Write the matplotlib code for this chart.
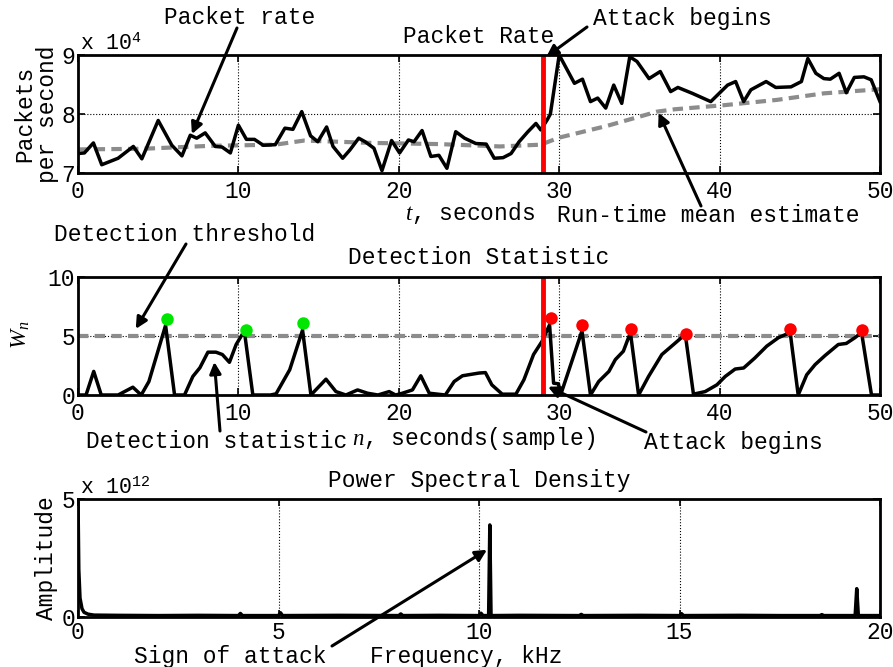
"""Three-panel DDoS detection figure: packet rate, detection statistic, PSD."""
import matplotlib
matplotlib.use("Agg")
import matplotlib.pyplot as plt
from matplotlib.ticker import FuncFormatter

plt.rcParams["font.family"] = ["Liberation Mono", "DejaVu Sans Mono"]
plt.rcParams["mathtext.fontset"] = "custom"
plt.rcParams["mathtext.rm"] = "Liberation Mono"
plt.rcParams["mathtext.it"] = "Liberation Serif:italic"

W, H = 893, 667
FS = 16.5

# ---- packet rate (packets / s) ----
rate_t = [0.0, 0.4, 0.96, 1.48, 2.5, 3.45, 3.98, 5.0, 5.85, 6.48, 7.0, 7.4, 7.93,
          8.56, 8.98, 9.5, 10.0, 10.5, 11.0, 11.55, 12.3, 12.9, 13.4, 13.95, 14.5,
          14.95, 15.5, 15.9, 16.5, 16.95, 17.5, 17.9, 18.45, 18.95, 19.55, 20.05,
          20.6, 20.95, 21.45, 22.0, 22.5, 23.0, 23.55, 24.1, 24.8, 25.45, 25.95,
          26.5, 27.0, 27.5, 28.05, 28.55, 28.85, 29.25, 29.45, 30.0, 30.95, 31.45,
          31.95, 32.4, 32.9, 33.4, 33.9, 34.4, 34.85, 35.6, 36.3, 36.95, 37.4,
          38.3, 39.45, 40.5, 41.0, 41.5, 41.95, 42.9, 43.5, 44.45, 45.1, 45.5,
          46.0, 46.5, 46.9, 47.45, 47.9, 48.4, 49.0, 49.45, 50.0]
rate = [73300, 73400, 75100, 71400, 72500, 74500, 72400, 78900, 74700, 72900,
        76400, 75900, 76800, 74500, 74400, 73400, 78100, 75700, 75700, 74700,
        74800, 77600, 77400, 80400, 76300, 75300, 77800, 74500, 72500, 73900,
        75900, 75300, 74200, 70400, 75500, 73400, 75600, 75300, 77200, 72800,
        73000, 70800, 77000, 75900, 75000, 74900, 72500, 72600, 73300, 75300,
        77000, 78400, 77300, 79000, 80000, 90000, 85200, 85900, 82100, 82700,
        81000, 84900, 81800, 89700, 88900, 86000, 87200, 83800, 84500, 83500,
        82100, 84900, 85500, 82100, 84100, 85500, 84500, 84600, 85500, 89400,
        86900, 86000, 85900, 86900, 83600, 86200, 86300, 85800, 82100]

# run-time mean estimate
mean_t = [0.0, 4.0, 8.2, 12.3, 14.1, 18.3, 22.5, 26.3, 28.85, 30.0, 33.0,
          36.1, 37.2, 40.3, 43.6, 46.5, 49.5, 50.0]
mean_v = [74000, 74100, 74600, 74800, 75500, 75100, 74900, 74500, 74800, 76000,
          78000, 80400, 80800, 81500, 82400, 83500, 84100, 84200]

ATTACK_T = 29.0

# ---- detection statistic W_n ----
stat_t = [0.0, 0.5, 0.98, 1.45, 2.5, 3.42, 3.94, 4.42, 5.46, 6.02, 6.64, 7.16,
          7.6, 8.1, 8.6, 9.0, 9.44, 9.86, 10.37, 10.9, 12.0, 12.35, 13.2, 14.0,
          14.52, 15.46, 16.08, 16.7, 17.43, 18.05, 18.7, 19.4, 19.8, 20.2, 20.85,
          21.37, 21.9, 22.9, 23.45, 23.97, 25.0, 25.4, 25.8, 26.45, 27.3, 27.8,
          28.4, 28.94, 29.4, 29.65, 29.95, 30.1, 31.42, 31.95, 32.46, 33.1, 33.5,
          34.0, 34.44, 34.95, 35.57, 36.4, 37.13, 37.86, 38.37, 39.1, 39.83,
          40.35, 40.97, 41.5, 42.2, 42.94, 43.67, 44.4, 44.9, 45.43, 45.95, 46.57,
          47.4, 47.9, 48.44, 48.85, 49.47, 49.85]
stat = [0.0, 0.0, 2.0, 0.0, 0.0, 0.66, 0.0, 1.14, 5.9, 0.0, 0.0, 1.57, 2.31,
        3.63, 3.63, 3.43, 2.77, 4.28, 5.43, 0.0, 0.0, 0.1, 2.14, 5.5, 0.0, 1.34,
        0.29, 0.0, 0.43, 0.15, 0.0, 0.29, 0.0, 0.14, 0.43, 1.63, 0.15, 0.0, 1.14,
        1.63, 1.86, 1.9, 0.86, 0.07, 0.07, 1.29, 3.43, 4.57, 5.95, 1.0, 0.95,
        0.05, 5.43, 0.0, 1.14, 2.0, 3.0, 3.71, 5.29, 0.0, 1.57, 3.43, 4.28, 5.14,
        0.07, 0.29, 0.86, 1.57, 2.2, 2.29, 3.14, 4.14, 4.86, 5.29, 0.0, 1.71,
        2.57, 3.34, 4.28, 4.37, 4.86, 5.29, 0.0, 0.0]
THRESHOLD = 5.0

# alarms before (false) and after (true) the attack onset
false_t = [5.55, 10.45, 14.0]
false_v = [6.43, 5.5, 6.14]
true_t = [29.5, 31.42, 34.47, 37.9, 44.4, 48.9]
true_v = [6.49, 5.91, 5.63, 5.2, 5.57, 5.51]

# ---- power spectral density (amplitude) ----
psd_f = [0.0, 0.02, 0.05, 0.1, 0.15, 0.25, 0.4, 1.0, 2.0, 3.0, 4.0, 4.05, 4.1,
         5.0, 5.05, 5.1, 6.5, 8.0, 8.05, 8.1, 9.0, 10.0, 10.05, 10.1, 10.24,
         10.27, 10.30, 11.0, 12.5, 12.55, 12.6, 14.0, 15.0, 15.05, 15.1, 16.5,
         17.5, 18.5, 18.55, 18.6, 19.38, 19.42, 19.46, 20.0]
psd = [5.0e12, 2.0e12, 0.8e12, 0.35e12, 0.2e12, 0.12e12, 0.08e12, 0.07e12,
       0.06e12, 0.07e12, 0.06e12, 0.15e12, 0.06e12, 0.06e12, 0.18e12, 0.06e12,
       0.07e12, 0.06e12, 0.13e12, 0.06e12, 0.07e12, 0.06e12, 0.16e12, 0.06e12,
       0.06e12, 3.9e12, 0.06e12, 0.07e12, 0.06e12, 0.11e12, 0.06e12, 0.07e12,
       0.06e12, 0.14e12, 0.06e12, 0.07e12, 0.06e12, 0.06e12, 0.1e12, 0.06e12,
       0.06e12, 1.2e12, 0.06e12, 0.06e12]


def fx(x):
    return x / W


def fy(y):
    return 1 - y / H


def style(ax, ylim, yticks, scale=1.0, xpad=5):
    ax.set_ylim(*ylim)
    ax.set_yticks(yticks)
    ax.yaxis.set_major_formatter(FuncFormatter(lambda v, p: f"{v / scale:g}"))
    ax.tick_params(direction="in", top=True, right=True, length=5, width=1.2,
                   labelsize=FS, pad=2)
    ax.tick_params(axis="x", pad=xpad)
    ax.grid(True, linestyle=":", color="black", linewidth=0.8)
    for s in ax.spines.values():
        s.set_linewidth(2)


def label(x, y, s, **kw):
    fig.text(fx(x), fy(y), s, ha="center", va="center", fontsize=FS, **kw)


def arrow(ax, head, tail_px):
    ax.annotate("", xy=head, xycoords="data",
                xytext=(fx(tail_px[0]), fy(tail_px[1])), textcoords="figure fraction",
                arrowprops=dict(arrowstyle="-|>", color="black", lw=2.2,
                                mutation_scale=17, shrinkA=0, shrinkB=0))


fig = plt.figure(figsize=(W / 100, H / 100), dpi=100)
left, width, hgt = fx(78), (880 - 78) / W, 118 / H
ax1 = fig.add_axes([left, fy(173), width, hgt])
ax2 = fig.add_axes([left, fy(395), width, hgt])
ax3 = fig.add_axes([left, fy(617), width, hgt])

# top: packet rate
ax1.plot(mean_t, mean_v, color="#8c8c8c", lw=3, dashes=(2.5, 1.5))
ax1.plot(rate_t, rate, color="black", lw=2.5)
ax1.axvline(ATTACK_T, color="red", lw=3.5)
ax1.set_xlim(0, 50)
ax1.set_xticks(range(0, 51, 10))
style(ax1, (7e4, 9e4), [7e4, 8e4, 9e4], 1e4)
ax1.set_title("Packet Rate", fontsize=FS, pad=9)
label(36, 114, "Packets\nper second", rotation=90, linespacing=1.0)
fig.text(fx(80), fy(50), r"x 10$^{4}$", fontsize=FS - 1)
label(470, 213, r"$t$, seconds")
label(240, 18, "Packet rate")
arrow(ax1, (7.1, 76600), (237, 28))
label(682, 18, "Attack begins")
arrow(ax1, (ATTACK_T + 0.2, 89700), (587, 27))
label(708, 215, "Run-time mean estimate")
arrow(ax1, (36.2, 80200), (701, 206))

# middle: detection statistic
ax2.axhline(THRESHOLD, color="#8c8c8c", lw=3, dashes=(2.5, 1.5))
ax2.plot(stat_t, stat, color="black", lw=2.5)
ax2.axvline(ATTACK_T, color="red", lw=3.5)
ax2.plot(false_t, false_v, "o", color="#00e600", ms=9, mec="none")
ax2.plot(true_t, true_v, "o", color="red", ms=9, mec="none")
ax2.set_xlim(0, 50)
ax2.set_xticks(range(0, 51, 10))
style(ax2, (0, 10), [0, 5, 10])
ax2.set_title("Detection Statistic", fontsize=FS, pad=9)
label(20, 335, r"$W_n$", rotation=90)
label(474, 438, r"$n$, seconds(sample)")
label(185, 235, "Detection threshold")
arrow(ax2, (3.6, 5.6), (186, 244))
label(217, 442, "Detection statistic")
arrow(ax2, (8.5, 2.8), (220, 431))
label(733, 442, "Attack begins")
arrow(ax2, (29.3, 0.7), (646, 432))

# bottom: power spectral density
ax3.plot(psd_f, psd, color="black", lw=2.5)
ax3.set_xlim(0, 20)
ax3.set_xticks(range(0, 21, 5))
style(ax3, (0, 5e12), [0, 5e12], 1e12, xpad=3)
ax3.set_title("Power Spectral Density", fontsize=FS, pad=9)
label(46, 558, "Amplitude", rotation=90)
fig.text(fx(80), fy(494), r"x 10$^{12}$", fontsize=FS - 1)
label(466, 657, "Frequency, kHz")
label(230, 657, "Sign of attack")
arrow(ax3, (10.2, 2.85e12), (332, 646))

fig.savefig("out.png", dpi=100)
